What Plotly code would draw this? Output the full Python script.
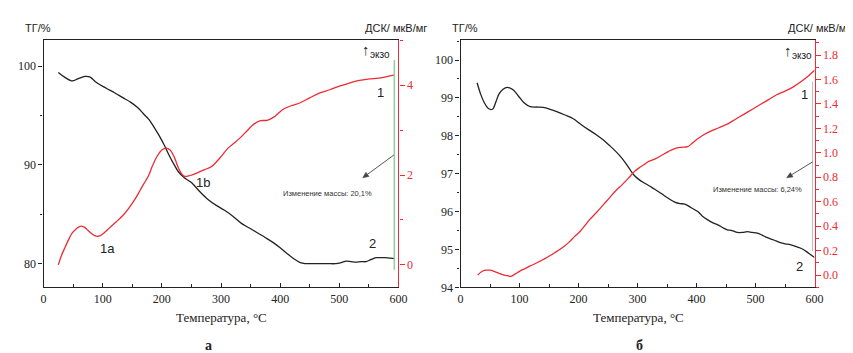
import plotly.graph_objects as go

# ---------- data (panel а) ----------
tg_a_T = [25, 35, 48, 58, 70, 78, 90, 106, 120, 134, 147, 159, 170, 178, 187, 195, 204, 212, 220, 228,
          238, 250, 264, 278, 292, 306, 320, 334, 348, 362, 376, 389, 400, 412, 423, 434, 442, 450, 465,
          480, 494, 503, 512, 520, 528, 537, 545, 553, 562, 570, 578, 587, 594]
tg_a = [99.35, 98.9, 98.5, 98.7, 98.95, 98.9, 98.3, 97.75, 97.3, 96.8, 96.35, 95.8, 95.1, 94.6, 93.8, 93.0,
        92.0, 91.0, 90.1, 89.3, 88.7, 88.2, 87.3, 86.5, 85.9, 85.4, 84.8, 84.1, 83.6, 83.1, 82.6, 82.1,
        81.6, 81.0, 80.5, 80.1, 80.0, 80.0, 80.0, 80.0, 80.0, 80.1, 80.25, 80.2, 80.15, 80.2, 80.2, 80.4,
        80.6, 80.6, 80.6, 80.55, 80.5]

dsc_a_T = [25, 30, 37, 43, 48, 55, 62, 69, 75, 82, 89, 96, 104, 112, 123, 134, 144, 153, 160, 167, 173,
           178, 184, 192, 200, 207, 214, 221, 228, 234, 239, 245, 250, 260, 272, 284, 298, 312, 323, 334,
           345, 356, 367, 378, 389, 398, 406, 420, 434, 450, 467, 484, 500, 517, 534, 550, 567, 580, 594]
dsc_a = [0.0, 0.2, 0.41, 0.58, 0.70, 0.80, 0.86, 0.84, 0.77, 0.69, 0.64, 0.65, 0.73, 0.83, 0.96, 1.1, 1.26,
         1.43, 1.58, 1.75, 1.88, 2.0, 2.2, 2.42, 2.56, 2.6, 2.56, 2.4, 2.16, 2.02, 1.97, 1.98, 2.0, 2.05,
         2.12, 2.19, 2.38, 2.6, 2.72, 2.85, 3.0, 3.14, 3.21, 3.22, 3.29, 3.39, 3.47, 3.55, 3.61, 3.72, 3.83,
         3.9, 3.98, 4.05, 4.11, 4.14, 4.16, 4.19, 4.23]

# ---------- data (panel б) ----------
tg_b_T = [28, 34, 40, 47, 54, 60, 65, 72, 79, 85, 90, 98, 107, 118, 130, 140, 152, 163, 177, 191, 204,
          218, 230, 241, 252, 263, 274, 285, 293, 302, 313, 324, 333, 341, 352, 363, 372, 380, 391, 402,
          410, 419, 428, 436, 444, 452, 460, 469, 478, 486, 494, 503, 511, 520, 531, 542, 550, 559, 570,
          581, 590, 600]
tg_b = [99.4, 99.1, 98.88, 98.72, 98.7, 98.9, 99.1, 99.23, 99.28, 99.25, 99.2, 99.05, 98.88, 98.77, 98.76,
        98.75, 98.7, 98.64, 98.55, 98.45, 98.3, 98.15, 98.03, 97.9, 97.75, 97.59, 97.4, 97.16, 96.98, 96.85,
        96.74, 96.64, 96.55, 96.47, 96.35, 96.25, 96.21, 96.2, 96.1, 96.0, 95.88, 95.78, 95.7, 95.65, 95.58,
        95.52, 95.5, 95.45, 95.45, 95.47, 95.45, 95.43, 95.38, 95.31, 95.25, 95.18, 95.15, 95.13, 95.07,
        95.0, 94.9, 94.79]

dsc_b_T = [29, 36, 43, 50, 57, 65, 74, 80, 85, 93, 101, 110, 118, 127, 135, 143, 152, 160, 168, 177, 185,
           193, 202, 210, 218, 230, 241, 252, 263, 274, 285, 293, 302, 310, 319, 330, 341, 352, 363, 374,
           385, 393, 402, 413, 425, 438, 452, 466, 480, 494, 508, 522, 536, 550, 564, 578, 590, 600]
dsc_b = [0.0, 0.03, 0.04, 0.04, 0.03, 0.015, 0.0, -0.005, -0.01, 0.01, 0.035, 0.055, 0.075, 0.095, 0.115,
         0.135, 0.16, 0.185, 0.21, 0.24, 0.275, 0.315, 0.355, 0.4, 0.45, 0.51, 0.57, 0.63, 0.69, 0.74, 0.795,
         0.84, 0.875, 0.9, 0.93, 0.95, 0.98, 1.01, 1.035, 1.045, 1.05, 1.08, 1.115, 1.15, 1.18, 1.205, 1.235,
         1.275, 1.315, 1.355, 1.395, 1.435, 1.475, 1.505, 1.54, 1.585, 1.63, 1.675]

# tick labels
x_ticks = [0, 100, 200, 300, 400, 500, 600]
tg_a_ticks = [80, 90, 100]
dsc_a_ticks = [0, 2, 4]
tg_b_ticks = [94, 95, 96, 97, 98, 99, 100]
dsc_b_ticks = [0.0, 0.2, 0.4, 0.6, 0.8, 1.0, 1.2, 1.4, 1.6, 1.8]

BLACK = "#222222"
RED = "#ec2b33"
SERIF = "Liberation Serif"
SANS = "Liberation Sans"
W, H = 853, 353

fig = go.Figure()
fig.add_trace(go.Scatter(x=tg_a_T, y=tg_a, mode="lines", line=dict(color=BLACK, width=1.3, shape="spline"),
                         xaxis="x", yaxis="y", showlegend=False))
fig.add_trace(go.Scatter(x=dsc_a_T, y=dsc_a, mode="lines", line=dict(color=RED, width=1.3, shape="spline"),
                         xaxis="x", yaxis="y2", showlegend=False))
fig.add_trace(go.Scatter(x=tg_b_T, y=tg_b, mode="lines", line=dict(color=BLACK, width=1.3, shape="spline"),
                         xaxis="x2", yaxis="y3", showlegend=False))
fig.add_trace(go.Scatter(x=dsc_b_T, y=dsc_b, mode="lines", line=dict(color=RED, width=1.3, shape="spline"),
                         xaxis="x2", yaxis="y4", showlegend=False))

ydom = [(H - 285) / H, (H - 33) / H]
xdom_a = [33 / W, 393 / W]
xdom_b = [456 / W, 815 / W]

def xax(domain, anchor):
    return dict(domain=domain, anchor=anchor, range=[0, 600], tickvals=x_ticks,
                showline=True, linecolor=BLACK, linewidth=1.2, mirror=True,
                ticks="inside", ticklen=4, tickcolor=BLACK, showgrid=False, zeroline=False,
                minor=dict(dtick=50, ticks="inside", ticklen=3, tickcolor=BLACK),
                tickfont=dict(family=SERIF, size=12, color=BLACK))

def yleft(rng, vals, minor, anchor):
    return dict(domain=ydom, anchor=anchor, range=rng, tickvals=vals, side="left",
                showline=True, linecolor=BLACK, linewidth=1.2, ticks="outside", ticklen=4,
                tickcolor=BLACK, showgrid=False, zeroline=False,
                minor=dict(dtick=minor, ticks="outside", ticklen=2, tickcolor=BLACK),
                tickfont=dict(family=SERIF, size=12, color=BLACK))

def yright(rng, vals, minor, overlay, anchor, fmt):
    return dict(domain=ydom, anchor=anchor, overlaying=overlay, side="right", range=rng, tickvals=vals,
                tickformat=fmt, showline=True, linecolor=RED, linewidth=1.2, ticks="outside", ticklen=5,
                tickcolor=RED, showgrid=False, zeroline=False,
                minor=dict(dtick=minor, ticks="outside", ticklen=3, tickcolor=RED),
                tickfont=dict(family=SERIF, size=12, color=RED))

fig.update_layout(
    width=W, height=H, margin=dict(l=0, r=0, t=0, b=0),
    paper_bgcolor="white", plot_bgcolor="white",
    xaxis=xax(xdom_a, "y"),
    yaxis=yleft([77.6, 102.6], tg_a_ticks, 5, "x"),
    yaxis2=yright([-0.5, 5.0], dsc_a_ticks, 1, "y", "x", "d"),
    xaxis2=xax(xdom_b, "y3"),
    yaxis3=yleft([94, 100.52], tg_b_ticks, 0.5, "x2"),
    yaxis4=yright([-0.1, 1.92], dsc_b_ticks, 0.1, "y3", "x2", ".1f"),
)

def px_ann(text, x, y, size, family=SANS, color=BLACK, xanchor="center", **kw):
    return dict(text=text, x=x / W, y=(H - y) / H, xref="paper", yref="paper", showarrow=False,
                xanchor=xanchor, yanchor="middle", font=dict(family=family, size=size, color=color), **kw)

anns = [
    px_ann("ТГ/%", 12, 20, 11, xanchor="left"),
    px_ann("ДСК/ мкВ/мг", 357, 20, 11, xanchor="left"),
    px_ann("ТГ/%", 445, 20, 11, xanchor="left"),
    px_ann("ДСК/ мкВ/мг", 786, 20, 11, xanchor="left"),
    px_ann("↑", 360, 42, 15),
    px_ann("экзо", 374, 47, 10),
    px_ann("↑", 788, 43, 15),
    px_ann("экзо", 802, 48, 10),
    px_ann("Температура, °C", 213, 316, 13, family=SERIF),
    px_ann("Температура, °C", 636, 316, 13, family=SERIF),
    px_ann("<b>а</b>", 200, 344, 14, family=SERIF),
    px_ann("<b>б</b>", 637, 344, 14, family=SERIF),
    px_ann("1", 375, 86, 13),
    px_ann("1a", 98, 245, 13),
    px_ann("1b", 195, 178, 13),
    px_ann("2", 367, 240, 13),
    px_ann("1", 805, 88, 13),
    px_ann("2", 800, 264, 13),
    px_ann("Изменение массы: 20,1%", 321, 189, 7.5, color="#333333"),
    px_ann("Изменение массы: 6,24%", 757, 185, 7.5, color="#333333"),
]
fig.update_layout(annotations=anns)

def P(x, y):
    return x / W, (H - y) / H

def arrow_shapes(tail, head, color="#444444"):
    import math
    dx, dy = head[0] - tail[0], head[1] - tail[1]
    L = math.hypot(dx, dy)
    ux, uy = dx / L, dy / L
    hl, hw = 6.0, 2.6
    bx, by = head[0] - hl * ux, head[1] - hl * uy
    px_, py_ = -uy * hw, ux * hw
    t0 = P(*tail); b0 = P(bx, by)
    h0 = P(*head); c1 = P(bx + px_, by + py_); c2 = P(bx - px_, by - py_)
    return [
        dict(type="line", xref="paper", yref="paper", x0=t0[0], y0=t0[1], x1=b0[0], y1=b0[1],
             line=dict(color=color, width=0.9)),
        dict(type="path", xref="paper", yref="paper",
             path=f"M {h0[0]} {h0[1]} L {c1[0]} {c1[1]} L {c2[0]} {c2[1]} Z",
             fillcolor=color, line=dict(color=color, width=0.5)),
    ]

shapes = [
    dict(type="line", xref="x", yref="paper", x0=593, x1=593, y0=(H - 53) / H, y1=(H - 267) / H,
         line=dict(color="#8fd19a", width=1.5)),
    dict(type="line", xref="x2", yref="paper", x0=596.5, x1=596.5, y0=(H - 75) / H, y1=(H - 248) / H,
         line=dict(color="#aaaaaa", width=0.8)),
]
shapes += arrow_shapes((388.3, 150.0), (356.7, 173.3))
shapes += arrow_shapes((813.0, 157.0), (786.7, 173.3))
fig.update_layout(shapes=shapes)

fig.write_html("out.html")
